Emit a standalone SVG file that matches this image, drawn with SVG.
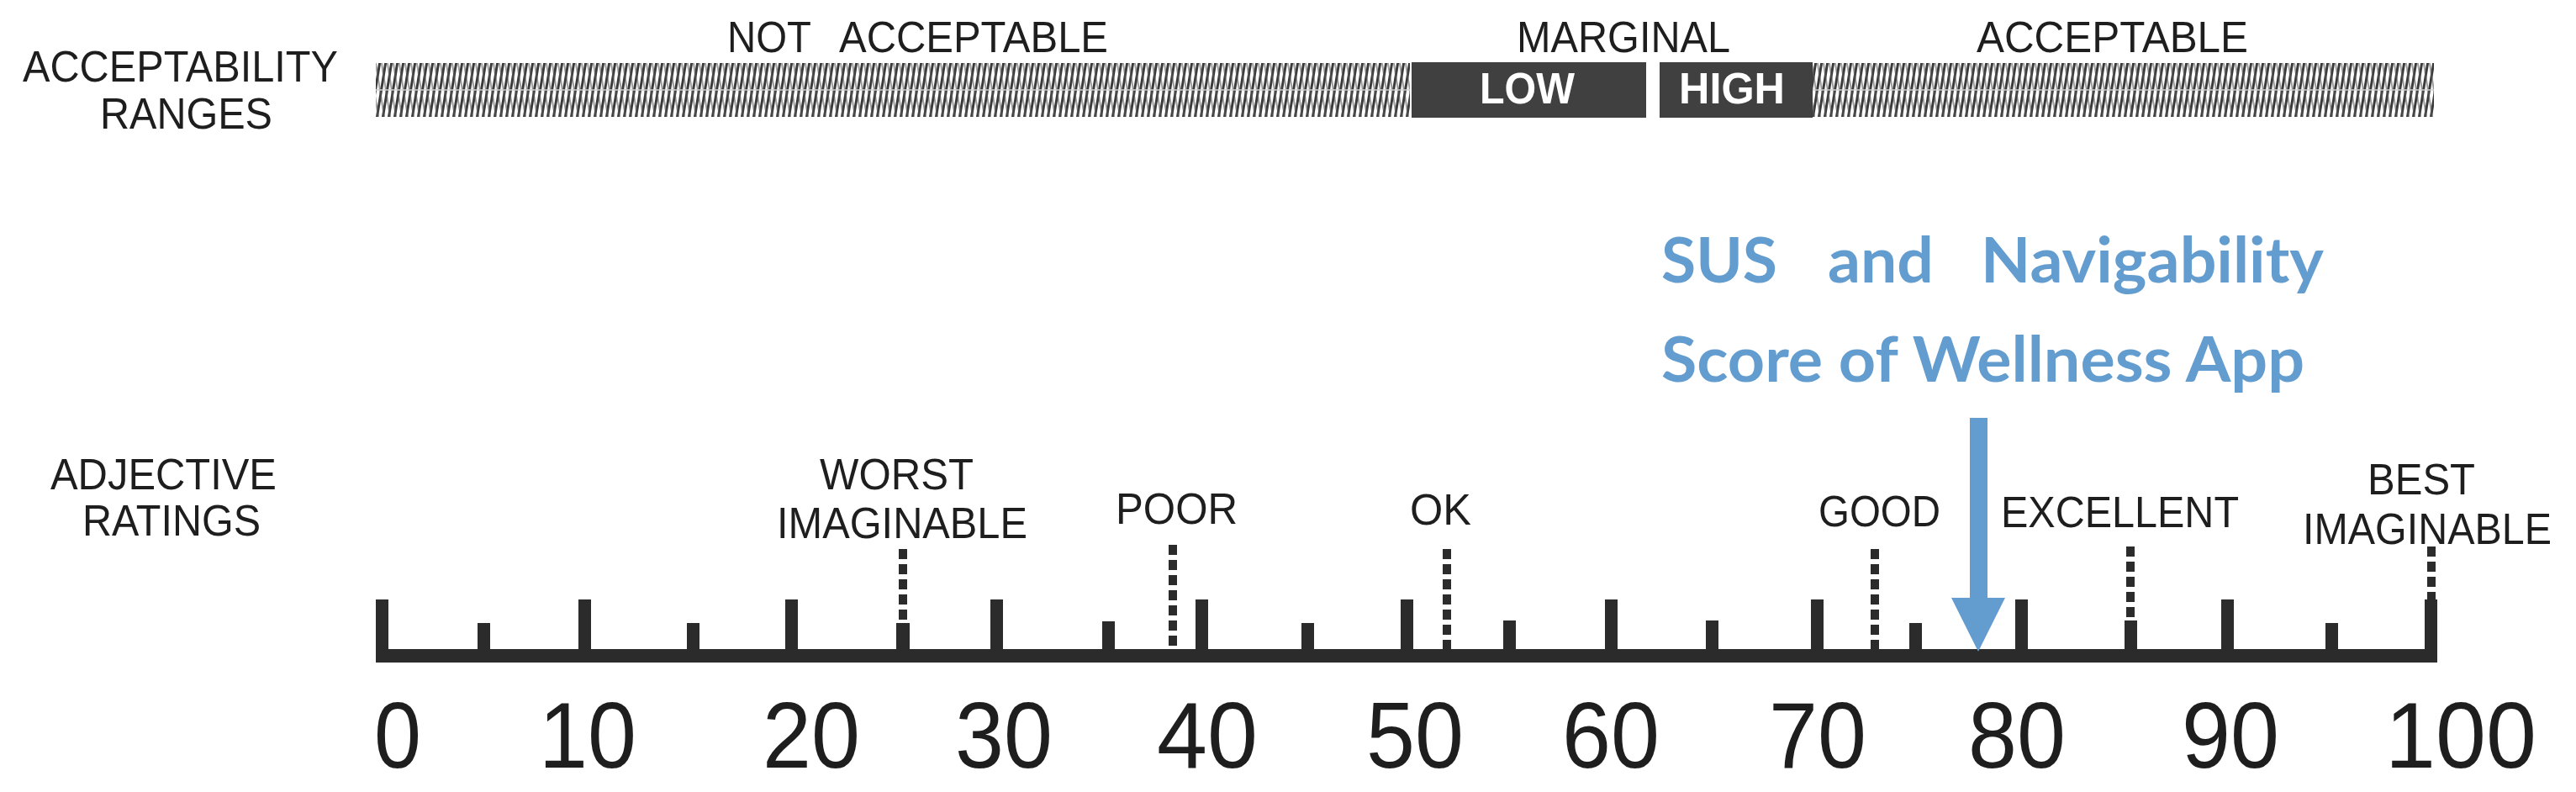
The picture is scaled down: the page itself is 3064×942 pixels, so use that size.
<svg xmlns="http://www.w3.org/2000/svg" width="3064" height="942" viewBox="0 0 3064 942">
<style>
.lbl{font-family:"Liberation Sans",Arial,sans-serif;font-size:51px;fill:#1e1e1e}
.box{font-family:"Liberation Sans",Arial,sans-serif;font-size:51px;font-weight:bold;fill:#ffffff}
.num{font-family:"Liberation Sans",Arial,sans-serif;font-size:112px;fill:#1e1e1e;text-anchor:middle}
.blue{font-family:Lato,"Open Sans",sans-serif;font-size:74px;font-weight:bold;fill:#639DD0}
.tick{fill:#2b2b2b}
.dash{stroke:#2b2b2b;stroke-width:10;stroke-dasharray:12 6;fill:none}
.mbox{fill:#404040}
.arrow{fill:#639DD0}
</style>
<defs>
<pattern id="hatchA" patternUnits="userSpaceOnUse" width="7" height="32" patternTransform="skewX(-9)">
<rect x="0" y="0" width="3" height="32" fill="#3a3a3a"/>
</pattern>
<pattern id="hatchB" patternUnits="userSpaceOnUse" width="7" height="32" patternTransform="skewX(9)">
<rect x="0" y="0" width="2" height="32" fill="#5a5a5a"/>
</pattern>
</defs>
<rect x="0" y="0" width="3064" height="942" fill="#ffffff"/>

<g id="acceptability-ranges">
<text class="lbl" x="27" y="97" textLength="375" lengthAdjust="spacingAndGlyphs">ACCEPTABILITY</text>
<text class="lbl" x="119" y="153" textLength="205" lengthAdjust="spacingAndGlyphs">RANGES</text>
</g>

<g id="not-acceptable">
<rect x="447" y="75" width="1230" height="64" fill="#ffffff"/>
<rect x="447" y="75" width="1230" height="64" fill="url(#hatchA)"/>
<rect x="447" y="75" width="1230" height="64" fill="url(#hatchB)" opacity="0.6"/>
<line x1="447" y1="107" x2="1677" y2="107" stroke="#d0d0d0" stroke-width="1.5"/>
<text class="lbl" x="865" y="62" textLength="100" lengthAdjust="spacingAndGlyphs">NOT</text>
<text class="lbl" x="998" y="62" textLength="320" lengthAdjust="spacingAndGlyphs">ACCEPTABLE</text>
</g>

<g id="marginal">
<text class="lbl" x="1804" y="62" textLength="254" lengthAdjust="spacingAndGlyphs">MARGINAL</text>
</g>

<g id="marginal-low">
<rect class="mbox" x="1679" y="74" width="279" height="66"/>
<text class="box" x="1760" y="123" textLength="113" lengthAdjust="spacingAndGlyphs">LOW</text>
</g>

<g id="marginal-high">
<rect class="mbox" x="1974" y="74" width="182" height="66"/>
<text class="box" x="1997" y="123" textLength="126" lengthAdjust="spacingAndGlyphs">HIGH</text>
</g>

<g id="acceptable">
<rect x="2156" y="75" width="739" height="64" fill="#ffffff"/>
<rect x="2156" y="75" width="739" height="64" fill="url(#hatchA)"/>
<rect x="2156" y="75" width="739" height="64" fill="url(#hatchB)" opacity="0.6"/>
<line x1="2156" y1="107" x2="2895" y2="107" stroke="#d0d0d0" stroke-width="1.5"/>
<text class="lbl" x="2351" y="62" textLength="323" lengthAdjust="spacingAndGlyphs">ACCEPTABLE</text>
</g>

<g id="adjective-ratings">
<text class="lbl" x="60" y="582" textLength="269" lengthAdjust="spacingAndGlyphs">ADJECTIVE</text>
<text class="lbl" x="98" y="637" textLength="212" lengthAdjust="spacingAndGlyphs">RATINGS</text>
</g>

<g id="scale">
<rect class="tick" x="447" y="772" width="2452" height="16"/>
<rect class="tick" x="447" y="713" width="15" height="75"/>
<rect class="tick" x="568" y="741" width="15" height="35"/>
<rect class="tick" x="688" y="713" width="15" height="63"/>
<rect class="tick" x="817" y="741" width="15" height="35"/>
<rect class="tick" x="934" y="713" width="15" height="63"/>
<rect class="tick" x="1066" y="741" width="16" height="35"/>
<rect class="tick" x="1178" y="713" width="15" height="63"/>
<rect class="tick" x="1311" y="739" width="15" height="37"/>
<rect class="tick" x="1422" y="713" width="15" height="63"/>
<rect class="tick" x="1548" y="741" width="15" height="35"/>
<rect class="tick" x="1666" y="713" width="15" height="63"/>
<rect class="tick" x="1788" y="738" width="15" height="38"/>
<rect class="tick" x="1909" y="713" width="15" height="63"/>
<rect class="tick" x="2029" y="738" width="15" height="38"/>
<rect class="tick" x="2154" y="713" width="15" height="63"/>
<rect class="tick" x="2271" y="741" width="15" height="35"/>
<rect class="tick" x="2397" y="713" width="15" height="63"/>
<rect class="tick" x="2527" y="738" width="15" height="38"/>
<rect class="tick" x="2642" y="713" width="15" height="63"/>
<rect class="tick" x="2766" y="741" width="15" height="35"/>
<rect class="tick" x="2884" y="713" width="15" height="75"/>
<text class="num" x="473" y="913" textLength="56" lengthAdjust="spacingAndGlyphs">0</text>
<text class="num" x="699" y="913" textLength="116" lengthAdjust="spacingAndGlyphs">10</text>
<text class="num" x="965" y="913" textLength="116" lengthAdjust="spacingAndGlyphs">20</text>
<text class="num" x="1194" y="913" textLength="116" lengthAdjust="spacingAndGlyphs">30</text>
<text class="num" x="1436" y="913" textLength="120" lengthAdjust="spacingAndGlyphs">40</text>
<text class="num" x="1683" y="913" textLength="116" lengthAdjust="spacingAndGlyphs">50</text>
<text class="num" x="1916" y="913" textLength="116" lengthAdjust="spacingAndGlyphs">60</text>
<text class="num" x="2162" y="913" textLength="116" lengthAdjust="spacingAndGlyphs">70</text>
<text class="num" x="2399" y="913" textLength="116" lengthAdjust="spacingAndGlyphs">80</text>
<text class="num" x="2653" y="913" textLength="116" lengthAdjust="spacingAndGlyphs">90</text>
<text class="num" x="2927" y="913" textLength="180" lengthAdjust="spacingAndGlyphs">100</text>
</g>

<g id="worst-imaginable">
<line class="dash" x1="1074" y1="653" x2="1074" y2="741"/>
<text class="lbl" x="975" y="582" textLength="183" lengthAdjust="spacingAndGlyphs">WORST</text>
<text class="lbl" x="924" y="640" textLength="298" lengthAdjust="spacingAndGlyphs">IMAGINABLE</text>
</g>

<g id="poor">
<line class="dash" x1="1395" y1="648" x2="1395" y2="772"/>
<text class="lbl" x="1327" y="623" textLength="145" lengthAdjust="spacingAndGlyphs">POOR</text>
</g>

<g id="ok">
<line class="dash" x1="1721" y1="653" x2="1721" y2="772"/>
<text class="lbl" x="1677" y="624" textLength="73" lengthAdjust="spacingAndGlyphs">OK</text>
</g>

<g id="good">
<line class="dash" x1="2230" y1="653" x2="2230" y2="772"/>
<text class="lbl" x="2163" y="626" textLength="145" lengthAdjust="spacingAndGlyphs">GOOD</text>
</g>

<g id="excellent">
<line class="dash" x1="2534" y1="650" x2="2534" y2="738"/>
<text class="lbl" x="2380" y="627" textLength="283" lengthAdjust="spacingAndGlyphs">EXCELLENT</text>
</g>

<g id="best-imaginable">
<line class="dash" x1="2892" y1="650" x2="2892" y2="713"/>
<text class="lbl" x="2816" y="588" textLength="128" lengthAdjust="spacingAndGlyphs">BEST</text>
<text class="lbl" x="2739" y="647" textLength="296" lengthAdjust="spacingAndGlyphs">IMAGINABLE</text>
</g>

<g id="wellness-score">
<text class="blue" x="1976" y="336" textLength="138" lengthAdjust="spacingAndGlyphs">SUS</text>
<text class="blue" x="2174" y="336" textLength="126" lengthAdjust="spacingAndGlyphs">and</text>
<text class="blue" x="2356" y="336" textLength="408" lengthAdjust="spacingAndGlyphs">Navigability</text>
<text class="blue" x="1976" y="454" textLength="765" lengthAdjust="spacingAndGlyphs">Score of Wellness App</text>
</g>

<g id="connectors">
<rect class="arrow" x="2343" y="497" width="21" height="216"/>
<polygon class="arrow" points="2321,711 2385,711 2353,775"/>
</g>
</svg>
